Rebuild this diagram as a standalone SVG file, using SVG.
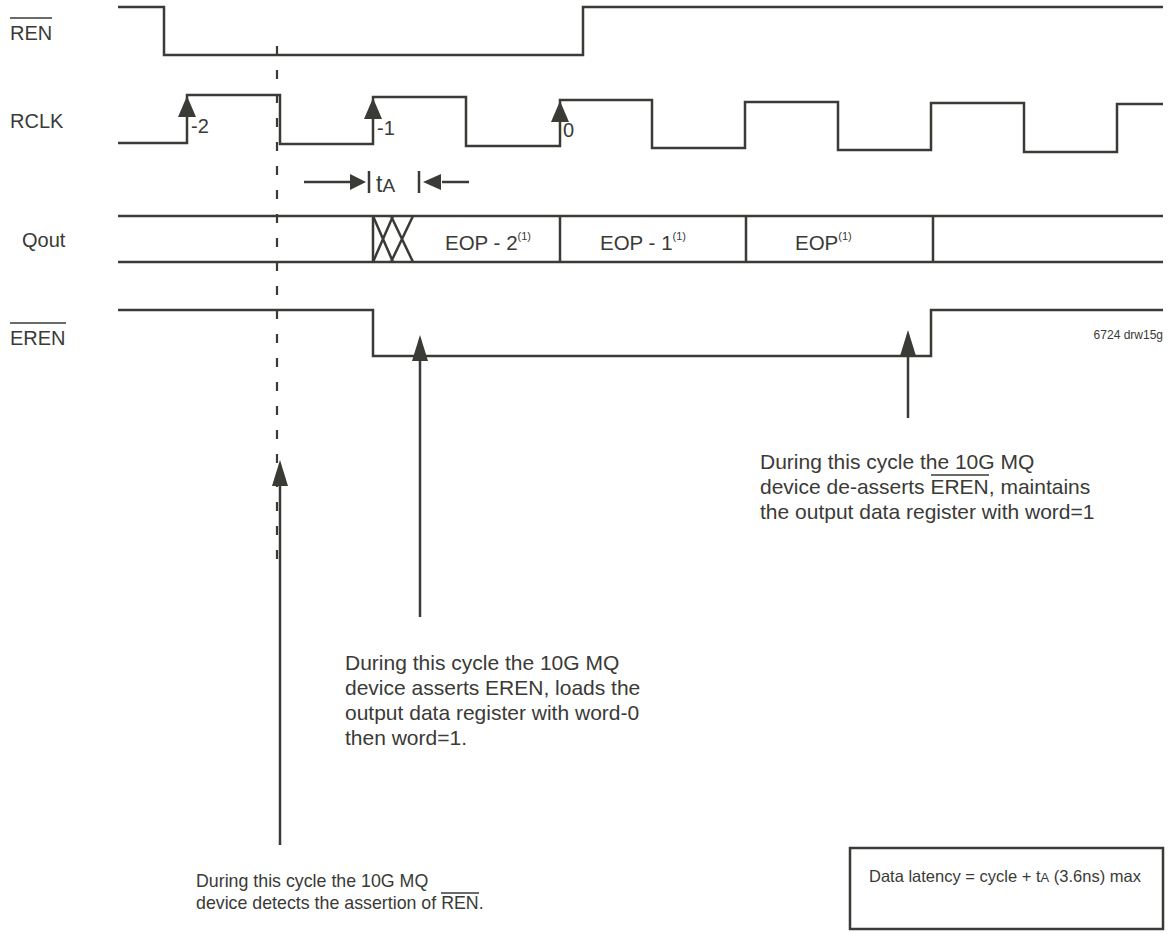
<svg xmlns="http://www.w3.org/2000/svg" width="1171" height="934" viewBox="0 0 1171 934">
<style>
.w{fill:none;stroke:#3a3a36;stroke-width:2.5;stroke-linejoin:miter}
.t{font-family:"Liberation Sans",Arial,sans-serif;fill:#3a3a36}
.ah{fill:#3a3a36}
.ol{stroke:#3a3a36;stroke-width:1.5}
</style>
<rect width="1171" height="934" fill="#fff"/>
<g id="labels">
<text class="t" x="10" y="40" font-size="20">REN</text>
<line class="ol" x1="10" y1="18" x2="52" y2="18"/>
<text class="t" x="10" y="128" font-size="20">RCLK</text>
<text class="t" x="22" y="247" font-size="20">Qout</text>
<text class="t" x="10" y="345" font-size="20">EREN</text>
<line class="ol" x1="10" y1="323" x2="66" y2="323"/>
<text class="t" x="1163" y="339" font-size="12" text-anchor="end">6724 drw15g</text>
</g>
<g id="REN">
<path class="w" d="M118,7 H164 V55 H583 V7 H1163"/>
</g>
<g id="RCLK">
<path class="w" d="M118,143 H187 V95 H280 V144 H373 V97 H466 V146 H560 V100 H652 V148 H745 V102 H838 V150 H931 V103 H1024 V152 H1117 V104 H1163"/>
<polygon class="ah" points="187,96 178,117 196,117"/>
<polygon class="ah" points="373,98 364,119 382,119"/>
<polygon class="ah" points="560,101 551,122 569,122"/>
<text class="t" x="191" y="133" font-size="20">-2</text>
<text class="t" x="377" y="135" font-size="20">-1</text>
<text class="t" x="563" y="137" font-size="20">0</text>
</g>
<g id="Qout">
<path class="w" d="M118,216 H1163 M118,262 H1163 M373,216 V262 M560,216 V262 M746,216 V262 M933,216 V262"/>
<path class="w" stroke-width="1.8" d="M373,216 L393,262 M393,216 L373,262 M391,216 L413,262 M413,216 L391,262"/>
<text class="t" x="445" y="250" font-size="20.5">EOP - 2<tspan font-size="11" dy="-10">(1)</tspan></text>
<text class="t" x="600" y="250" font-size="20.5">EOP - 1<tspan font-size="11" dy="-10">(1)</tspan></text>
<text class="t" x="795" y="250" font-size="20.5">EOP<tspan font-size="11" dy="-10">(1)</tspan></text>
</g>
<g id="EREN">
<path class="w" d="M118,310 H373 V356 H931 V310 H1163"/>
</g>
<g id="tA">
<path class="w" d="M304,182 H352 M442,182 H469 M369,171 V193 M419,171 V193"/>
<polygon class="ah" points="366,182 350,174 350,190"/>
<polygon class="ah" points="423,182 441,174 441,190"/>
<text class="t" x="376" y="192" font-size="23">t<tspan font-size="19">A</tspan></text>
</g>
<g id="connectors">
<line x1="277" y1="46" x2="277" y2="570" stroke="#3a3a36" stroke-width="2.2" stroke-dasharray="9 15"/>
<line x1="280" y1="480" x2="280" y2="845" stroke="#3a3a36" stroke-width="2.5"/>
<polygon class="ah" points="280,460 272,486 288,486"/>
<line x1="420" y1="355" x2="420" y2="617" stroke="#3a3a36" stroke-width="2.5"/>
<polygon class="ah" points="420,335 412,361 428,361"/>
<line x1="908" y1="350" x2="908" y2="418" stroke="#3a3a36" stroke-width="2.5"/>
<polygon class="ah" points="908,330 900,356 916,356"/>
</g>
<g id="note-right">
<text class="t" font-size="21"><tspan x="760" y="469">During this cycle the 10G MQ</tspan><tspan x="760" y="494">device de-asserts EREN, maintains</tspan><tspan x="760" y="519">the output data register with word=1</tspan></text>
<line class="ol" x1="931" y1="475" x2="989" y2="475"/>
</g>
<g id="note-middle">
<text class="t" font-size="21"><tspan x="345" y="670">During this cycle the 10G MQ</tspan><tspan x="345" y="695">device asserts EREN, loads the</tspan><tspan x="345" y="720">output data register with word-0</tspan><tspan x="345" y="745">then word=1.</tspan></text>
</g>
<g id="note-left">
<text class="t" font-size="17.8"><tspan x="196" y="887">During this cycle the 10G MQ</tspan><tspan x="196" y="909">device detects the assertion of REN.</tspan></text>
<line class="ol" x1="441" y1="893" x2="479" y2="893" stroke-width="1.3"/>
</g>
<g id="latency">
<rect x="850" y="848" width="313" height="81" fill="none" stroke="#3a3a36" stroke-width="2.5"/>
<text class="t" x="869" y="882" font-size="16.5">Data latency = cycle + t<tspan font-size="13">A</tspan> (3.6ns) max</text>
</g>
</svg>
